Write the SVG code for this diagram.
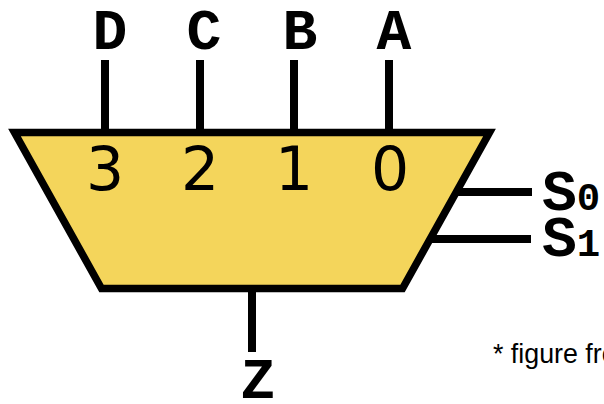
<svg xmlns="http://www.w3.org/2000/svg" width="604" height="404" viewBox="0 0 604 404">
<style>
.w{stroke:#000;stroke-width:8;fill:none}
.l{font-family:"Liberation Mono",monospace;font-weight:bold;font-size:58px;fill:#000}
.s{font-size:39px}
.d{font-family:"DejaVu Sans",sans-serif;font-size:60px;fill:#000;text-anchor:middle}
</style>
<rect width="604" height="404" fill="#fff"/>
<g id="connectors">
<path class="w" d="M105 60V132M200 60V132M294 60V132M389 60V132M456 192H532M431 239H531M252 288V352"/>
</g>
<g id="mux">
<path d="M14.500 132.500H489.500L402.500 288.500H101.500Z" fill="#f4d55b" stroke="#000" stroke-width="7.500"/>
<text class="d" x="105" y="190">3</text>
<text class="d" x="200" y="190">2</text>
<text class="d" x="294" y="190">1</text>
<text class="d" x="390" y="190">0</text>
</g>
<g id="D"><text class="l" x="110" y="49" text-anchor="middle">D</text></g>
<g id="C"><text class="l" x="204" y="49" text-anchor="middle">C</text></g>
<g id="B"><text class="l" x="300" y="49" text-anchor="middle">B</text></g>
<g id="A"><text class="l" x="394" y="49" text-anchor="middle">A</text></g>
<g id="S0"><text class="l" x="542" y="210">S<tspan class="s">0</tspan></text></g>
<g id="S1"><text class="l" x="542" y="256">S<tspan class="s">1</tspan></text></g>
<g id="Z"><text class="l" x="258" y="398" text-anchor="middle">Z</text></g>
<text x="493" y="363" font-family="Liberation Sans, Arial, sans-serif" font-size="26.800" fill="#000">* figure fro</text>
</svg>
